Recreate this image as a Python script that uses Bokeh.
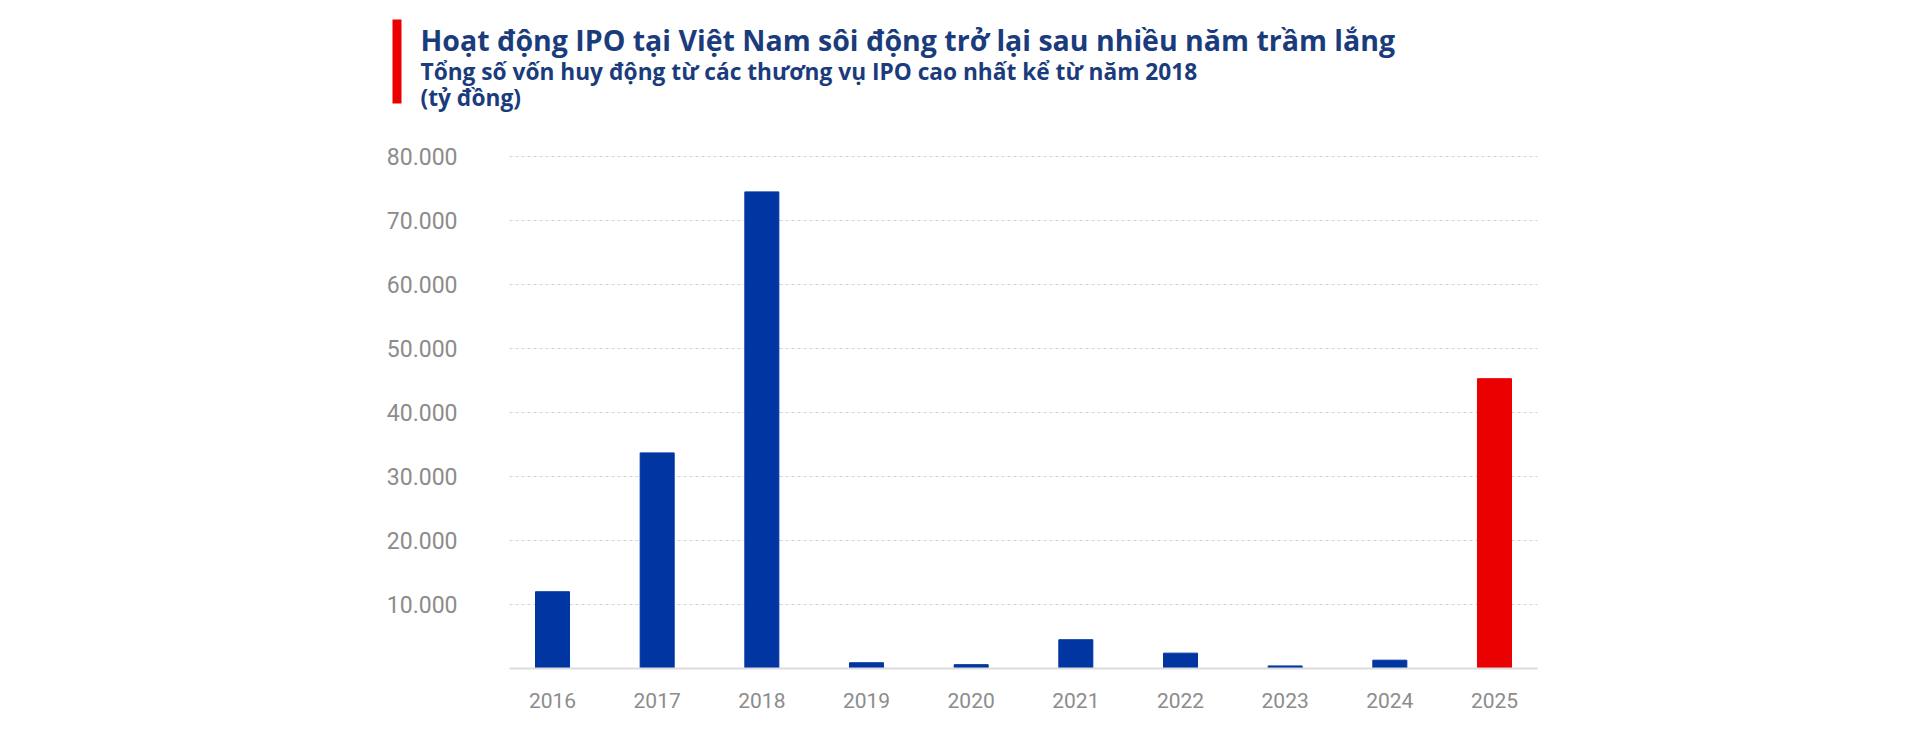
from bokeh.plotting import figure
from bokeh.models import Label, BoxAnnotation, FixedTicker, ColumnDataSource, Range1d
from bokeh.layouts import column
from bokeh.embed import file_html
from bokeh.resources import INLINE

# ---- data ----
years = [2016, 2017, 2018, 2019, 2020, 2021, 2022, 2023, 2024, 2025]
ipo_capital = [12000, 33700, 74500, 900, 600, 4500, 2400, 400, 1300, 45300]
highlight_year = 2025
y_ticks = [10000, 20000, 30000, 40000, 50000, 60000, 70000, 80000]
y_tick_labels = ["10.000", "20.000", "30.000", "40.000", "50.000", "60.000", "70.000", "80.000"]
title = "Hoạt động IPO tại Việt Nam sôi động trở lại sau nhiều năm trầm lắng"
subtitle = "Tổng số vốn huy động từ các thương vụ IPO cao nhất kể từ năm 2018"
unit = "(tỷ đồng)"

BLUE = "#0035a2"
RED = "#ea0000"
NAVY = "#1a3c7c"
GRAY = "#8c8c8c"

FIG_W = 1904
HEAD_H = 120
CHART_H = 600

# ---------------- header figure (title block) ----------------
head = figure(width=FIG_W, height=HEAD_H, output_backend="svg", toolbar_location=None,
              x_range=Range1d(0, FIG_W), y_range=Range1d(HEAD_H, 0),
              x_axis_type=None, y_axis_type=None,
              min_border=0, min_border_left=0, min_border_right=0,
              min_border_top=0, min_border_bottom=0)
head.frame_align = False
head.outline_line_color = None
head.grid.visible = False
head.background_fill_color = "white"
head.border_fill_color = "white"

head.add_layout(BoxAnnotation(left=392, right=401, top=19, bottom=103,
                              fill_color=RED, fill_alpha=1, line_color=None))
head.add_layout(Label(x=420, y=39, text=title,
                      text_font="Open Sans", text_font_style="bold",
                      text_font_size="28.5px", text_color=NAVY, text_baseline="alphabetic"))
head.add_layout(Label(x=420, y=71, text=subtitle,
                      text_font="Open Sans", text_font_style="bold",
                      text_font_size="22.7px", text_color=NAVY, text_baseline="alphabetic"))
head.add_layout(Label(x=420, y=97, text=unit,
                      text_font="Open Sans", text_font_style="bold",
                      text_font_size="22.7px", text_color=NAVY, text_baseline="alphabetic"))

# ---------------- chart figure ----------------
X0, X1 = 2015.589, 2025.411
Y0, Y1 = 0, 80500
FRAME_L, FRAME_W, FRAME_T, FRAME_H = 509, 1028, 153 - HEAD_H, 515

colors = [RED if y == highlight_year else BLUE for y in years]
src = ColumnDataSource(dict(x=years, top=ipo_capital, color=colors))

p = figure(width=FIG_W, height=CHART_H, output_backend="svg", toolbar_location=None,
           x_range=Range1d(X0, X1), y_range=Range1d(Y0, Y1),
           min_border_left=FRAME_L, min_border_right=FIG_W - FRAME_L - FRAME_W,
           min_border_top=FRAME_T, min_border_bottom=CHART_H - FRAME_T - FRAME_H)
p.frame_align = False
p.outline_line_color = None
p.background_fill_color = "white"
p.border_fill_color = "white"

p.vbar(x="x", top="top", width=0.325, color="color", source=src)

p.xaxis.ticker = FixedTicker(ticks=years)
p.xaxis.major_tick_line_color = None
p.xaxis.minor_tick_line_color = None
p.xaxis.axis_line_color = "#dcdcdc"
p.xaxis.axis_line_width = 2
p.xaxis.major_label_standoff = 18
p.xaxis.major_label_text_font = "Roboto"
p.xaxis.major_label_text_font_size = "21px"
p.xaxis.major_label_text_color = GRAY

p.yaxis.ticker = FixedTicker(ticks=y_ticks)
p.yaxis.major_label_overrides = {t: l for t, l in zip(y_ticks, y_tick_labels)}
p.yaxis.major_tick_line_color = None
p.yaxis.minor_tick_line_color = None
p.yaxis.axis_line_color = None
p.yaxis.major_label_standoff = 46
p.yaxis.major_label_text_font = "Roboto"
p.yaxis.major_label_text_font_size = "23px"
p.yaxis.major_label_text_color = GRAY

p.xgrid.grid_line_color = None
p.ygrid.grid_line_color = "#d2d2d2"
p.ygrid.grid_line_dash = "3 3"
p.ygrid.grid_line_width = 1

layout = column(head, p, spacing=0)
open("out.html", "w").write(file_html(layout, INLINE))
